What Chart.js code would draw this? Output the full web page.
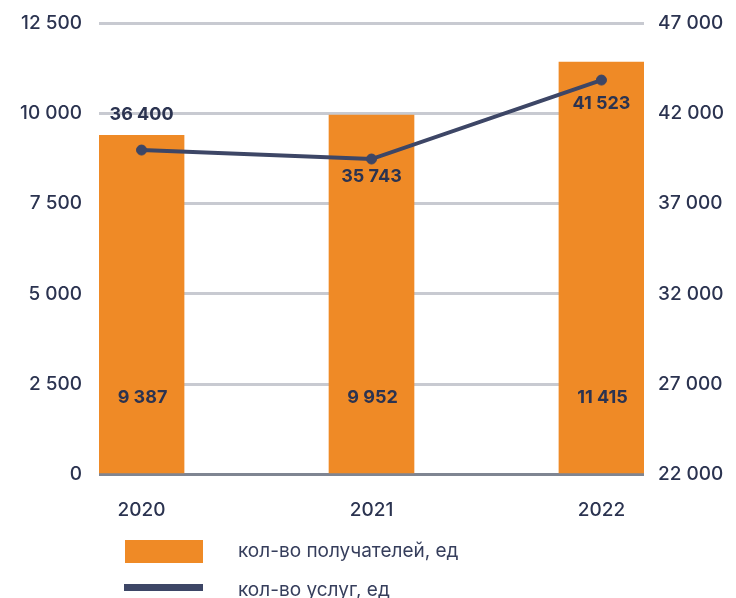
<!DOCTYPE html>
<html>
<head>
<meta charset="utf-8">
<script src="https://cdn.jsdelivr.net/npm/chart.js@4"></script>
<style>
  html, body { margin: 0; padding: 0; background: #fff; }
  #wrap { width: 736px; height: 598px; }
</style>
</head>
<body>
<div id="wrap"><canvas id="chart" width="736" height="598"></canvas></div>
<script>
const categories = ["2020", "2021", "2022"];
const recipients = [9387, 9952, 11415];
const services = [36400, 35743, 41523];
const recipientsLabel = "кол-во получателей, ед";
const servicesLabel = "кол-во услуг, ед";

const ORANGE = "#ef8a26";
const NAVY = "#3d4666";
const TEXT = "#2b3350";
const FONT = "Inter, 'Open Sans', sans-serif";

function fmt(v) {
  return String(v).replace(/\B(?=(\d{3})+(?!\d))/g, " ");
}

// label offsets for the line values (px from point)
const lineLabelDy = [-35, 18, 24];

const labelsPlugin = {
  id: "valueLabels",
  afterDatasetsDraw(chart) {
    const ctx = chart.ctx;
    const area = chart.chartArea;
    ctx.save();
    ctx.font = "bold 18px " + FONT;
    ctx.fillStyle = TEXT;
    ctx.textAlign = "center";
    ctx.textBaseline = "middle";
    chart.getDatasetMeta(0).data.forEach((bar, i) => {
      ctx.fillText(fmt(recipients[i]), bar.x + 1, area.bottom - 77);
    });
    chart.getDatasetMeta(1).data.forEach((pt, i) => {
      ctx.fillText(fmt(services[i]), chart.getDatasetMeta(0).data[i].x, pt.y + lineLabelDy[i]);
    });
    ctx.restore();
  },
  afterDraw(chart) {
    // vertical legend under the chart
    const ctx = chart.ctx;
    ctx.save();
    ctx.fillStyle = ORANGE;
    ctx.fillRect(125, 540, 78, 23);
    ctx.fillStyle = NAVY;
    ctx.fillRect(124, 584, 79, 7);
    ctx.font = "19px " + FONT;
    ctx.fillStyle = "#363e5c";
    ctx.textAlign = "left";
    ctx.textBaseline = "middle";
    ctx.fillText(recipientsLabel, 238, 551);
    ctx.fillText(servicesLabel, 238, 590);
    ctx.restore();
  }
};

function noEdgePadding(scale, width) {
  scale.width = width;
  scale.paddingTop = 0;
  scale.paddingBottom = 0;
}

new Chart(document.getElementById("chart"), {
  type: "bar",
  data: {
    datasets: [
      {
        type: "bar",
        label: recipientsLabel,
        data: recipients.map((v, i) => ({ x: i, y: v })),
        backgroundColor: ORANGE,
        barThickness: 85,
        yAxisID: "y",
        order: 2
      },
      {
        type: "line",
        label: servicesLabel,
        data: services.map((v, i) => ({ x: i, y: v })),
        borderColor: NAVY,
        backgroundColor: NAVY,
        borderWidth: 4,
        pointRadius: 5,
        pointBorderWidth: 1,
        pointHoverRadius: 5,
        tension: 0,
        yAxisID: "yLine",
        order: 1
      }
    ]
  },
  plugins: [labelsPlugin],
  options: {
    responsive: false,
    animation: false,
    layout: { padding: { top: 23, bottom: 0, left: 0, right: 0 } },
    plugins: {
      legend: { display: false },
      tooltip: { enabled: false }
    },
    scales: {
      x: {
        type: "linear",
        offset: false,
        min: -0.185,
        max: 2.185,
        grid: { display: false, offset: false },
        border: { display: false },
        afterBuildTicks: (scale) => {
          scale.ticks = categories.map((c, i) => ({ value: i }));
        },
        afterFit: (scale) => { scale.height = 123.5; },
        ticks: {
          callback: (v) => categories[v],
          color: TEXT,
          font: { family: FONT, size: 19, weight: "500" },
          padding: 16,
          maxRotation: 0
        }
      },
      y: {
        position: "left",
        min: 0,
        max: 12500,
        afterFit: (scale) => noEdgePadding(scale, 99),
        border: { display: false },
        grid: {
          drawTicks: false,
          lineWidth: 3,
          color: (c) => (c.tick && c.tick.value === 0 ? "#7f8592" : "#c8cad1")
        },
        ticks: {
          stepSize: 2500,
          padding: 17,
          color: TEXT,
          font: { family: FONT, size: 19, weight: "500" },
          callback: (v) => fmt(v)
        }
      },
      y1: {
        position: "right",
        min: 22000,
        max: 47000,
        afterFit: (scale) => noEdgePadding(scale, 92),
        border: { display: false },
        grid: { display: false, drawTicks: false },
        ticks: {
          stepSize: 5000,
          padding: 14,
          color: TEXT,
          font: { family: FONT, size: 19, weight: "500" },
          callback: (v) => fmt(v)
        }
      },
      yLine: {
        position: "right",
        display: false,
        min: 12650,
        max: 45700
      }
    }
  }
});
</script>
</body>
</html>
